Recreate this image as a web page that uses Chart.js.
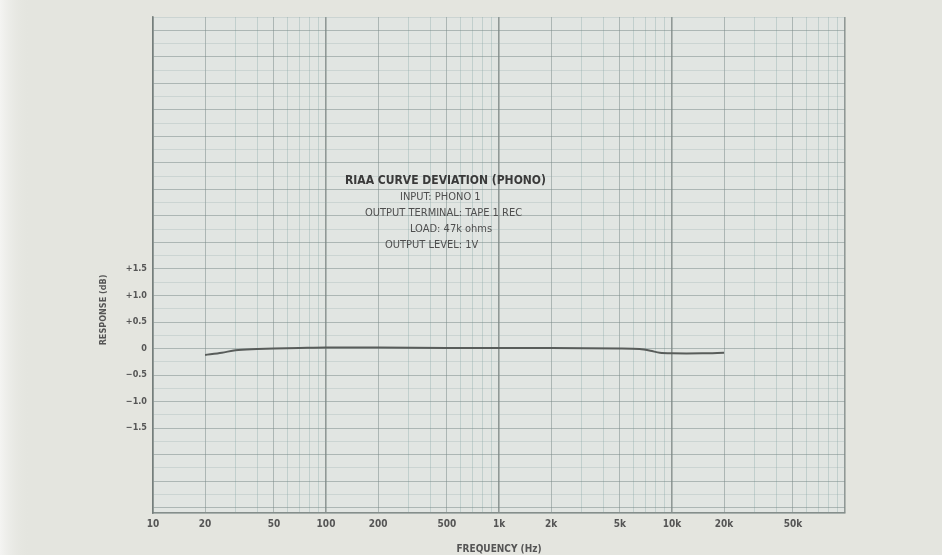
<!DOCTYPE html>
<html>
<head>
<meta charset="utf-8">
<script src="https://cdn.jsdelivr.net/npm/chart.js@4.4.1/dist/chart.umd.min.js"></script>
<style>
  html, body { margin: 0; padding: 0; background: #e4e5df; }
  #wrap { width: 942px; height: 555px; }
</style>
</head>
<body>
<div id="wrap"><canvas id="riaa"></canvas></div>
<script>
// RIAA deviation (Hz, dB)
const freqs     = [20, 25, 30, 40, 50, 70, 100, 200, 500, 1000, 2000, 5000, 6500, 7500, 8500, 10000, 15000, 20000];
const deviation = [-0.12, -0.08, -0.03, -0.01, 0.0, 0.01, 0.02, 0.02, 0.01, 0.01, 0.01, 0.0, -0.01, -0.04, -0.08, -0.09, -0.09, -0.08];

const freqTicks  = [10, 20, 50, 100, 200, 500, 1000, 2000, 5000, 10000, 20000, 50000];
const freqLabels = ['10', '20', '50', '100', '200', '500', '1k', '2k', '5k', '10k', '20k', '50k'];
const dbTicks    = [1.5, 1.0, 0.5, 0, -0.5, -1.0, -1.5];
const dbLabels   = ['+1.5', '+1.0', '+0.5', '0', '\u22120.5', '\u22121.0', '\u22121.5'];

const noteLines = [
  'RIAA CURVE DEVIATION (PHONO)',
  'INPUT: PHONO 1',
  'OUTPUT TERMINAL: TAPE 1 REC',
  'LOAD: 47k ohms',
  'OUTPUT LEVEL: 1V'
];

const FONT = "'Liberation Sans Narrow', 'DejaVu Sans Condensed', 'Liberation Sans', sans-serif";

// page / plot background like the scanned graph paper
const paperPlugin = {
  id: 'paper',
  beforeDraw(chart) {
    const { ctx, chartArea: a, width, height } = chart;
    ctx.save();
    ctx.fillStyle = '#e4e5df';
    ctx.fillRect(0, 0, width, height);
    const g = ctx.createLinearGradient(0, 0, 30, 0);
    g.addColorStop(0, '#f4f4f2');
    g.addColorStop(1, 'rgba(228,229,223,0)');
    ctx.fillStyle = g;
    ctx.fillRect(0, 0, 30, height);
    ctx.fillStyle = '#e1e5e2';
    ctx.fillRect(a.left, a.top, a.right - a.left, a.bottom - a.top);
    ctx.restore();
  }
};

// the measurement conditions printed on the graph, plus the y caption
const notesPlugin = {
  id: 'notes',
  afterDraw(chart) {
    const ctx = chart.ctx;
    const pos = [[345, 181], [400, 197], [365, 213], [410, 229], [385, 245]];
    ctx.save();
    ctx.textBaseline = 'middle';
    noteLines.forEach((t, i) => {
      ctx.font = i === 0 ? `bold 12px ${FONT}` : `11px ${FONT}`;
      ctx.fillStyle = i === 0 ? '#3a3a3a' : '#4e4e4e';
      ctx.fillText(t, pos[i][0], pos[i][1]);
    });
    ctx.translate(104, 310);
    ctx.rotate(-Math.PI / 2);
    ctx.textAlign = 'center';
    ctx.font = `bold 9px ${FONT}`;
    ctx.fillStyle = '#555';
    ctx.fillText('RESPONSE (dB)', 0, 0);
    ctx.restore();
  }
};

const isDecade = v => Math.abs(Math.log10(v) - Math.round(Math.log10(v))) < 1e-6;
const isLabelled = v => freqTicks.some(f => Math.abs(f - v) < 1e-6);

const riaaChart = new Chart(document.getElementById('riaa'), {
  type: 'line',
  data: {
    datasets: [{
      label: 'RIAA deviation',
      data: freqs.map((f, i) => ({ x: f, y: deviation[i] })),
      borderColor: '#585c5a',
      borderWidth: 2,
      pointRadius: 0,
      tension: 0.3,
      fill: false
    }]
  },
  options: {
    responsive: true,
    maintainAspectRatio: false,
    animation: false,
    layout: { padding: { left: 95, right: 97, top: 17, bottom: 0 } },
    plugins: {
      legend: { display: false },
      tooltip: { enabled: false }
    },
    scales: {
      x: {
        type: 'logarithmic',
        min: 10,
        max: 100000,
        afterBuildTicks: scale => {
          const t = [];
          for (let d = 10; d < 100000; d *= 10) {
            for (let m = 1; m < 10; m++) t.push({ value: d * m });
          }
          t.push({ value: 100000 });
          scale.ticks = t;
        },
        afterFit: scale => { scale.height = 42; },
        ticks: {
          autoSkip: false,
          maxRotation: 0,
          padding: 5,
          color: '#555',
          font: { family: FONT, size: 10, weight: 'bold' },
          callback: v => {
            const k = freqTicks.findIndex(f => Math.abs(f - v) < 1e-6);
            return k >= 0 ? freqLabels[k] : '';
          }
        },
        grid: {
          drawTicks: false,
          color: c => isDecade(c.tick.value) ? 'rgba(110,120,118,0.7)'
                    : isLabelled(c.tick.value) ? 'rgba(120,135,133,0.5)' : 'rgba(135,165,165,0.35)',
          lineWidth: c => isDecade(c.tick.value) ? 1.6 : 1
        },
        border: { color: 'rgba(110,120,118,0.8)', width: 1.6 },
        title: {
          display: true,
          text: 'FREQUENCY (Hz)',
          color: '#555',
          padding: { top: 0, bottom: 0 },
          font: { family: FONT, size: 10, weight: 'bold' }
        }
      },
      y: {
        type: 'linear',
        min: -3.1,
        max: 6.25,
        afterBuildTicks: scale => {
          const t = [{ value: -3.1 }];
          for (let v = -3.0; v <= 6.0 + 1e-9; v += 0.25) t.push({ value: Math.round(v * 100) / 100 });
          t.push({ value: 6.25 });
          scale.ticks = t;
        },
        afterFit: scale => { scale.width = 58; },
        ticks: {
          autoSkip: false,
          padding: 6,
          color: '#555',
          font: { family: FONT, size: 9, weight: 'bold' },
          callback: v => {
            const k = dbTicks.findIndex(d => Math.abs(d - v) < 1e-6);
            return k >= 0 ? dbLabels[k] : '';
          }
        },
        grid: {
          drawTicks: false,
          color: c => {
            const v = c.tick.value;
            return Math.abs(v * 2 - Math.round(v * 2)) < 1e-6 ? 'rgba(120,135,133,0.5)' : 'rgba(140,165,165,0.25)';
          },
          lineWidth: 1
        },
        border: { color: 'rgba(110,120,118,0.8)', width: 1.6 }
      }
    }
  },
  plugins: [paperPlugin, notesPlugin]
});
</script>
</body>
</html>
